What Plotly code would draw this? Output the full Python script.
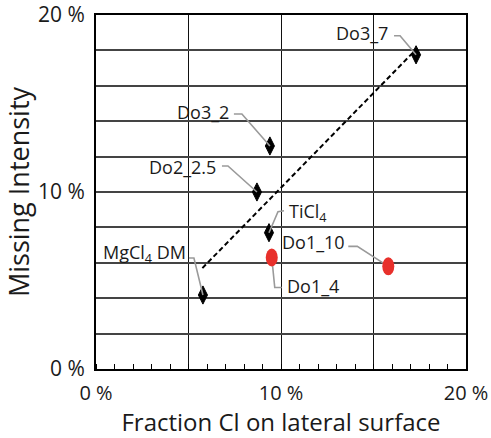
import plotly.graph_objects as go

# Sample names and measured values (percent)
black_names = ["MgCl<sub>4</sub> DM", "Do2_2.5", "Do3_2", "TiCl<sub>4</sub>", "Do3_7"]
black_x = [5.78, 8.7, 9.4, 9.35, 17.3]
black_y = [4.18, 10.0, 12.6, 7.7, 17.75]

red_names = ["Do1_4", "Do1_10"]
red_x = [9.5, 15.8]
red_y = [6.3, 5.8]

# Linear trend through the black samples
trend_x = [5.75, 17.25]
trend_y = [5.7, 18.0]

x_ticks = [0, 5, 10, 15, 20]
x_ticktext = ["0 %", "", "10 %", "", "20 %"]
y_ticks = [0, 2, 4, 6, 8, 10, 12, 14, 16, 18, 20]
y_ticktext = ["0 %", "", "", "", "", "10 %", "", "", "", "", "20 %"]

# Label placement: leader path (elbow, end) and text offset, in pixels relative to the marker
# (dx right, dy down on screen); anchor side of the text
label_layout = {
    "MgCl<sub>4</sub> DM": dict(elbow=(-9, -37), end=(-14, -37), text=(-15, -42), side="right"),
    "Do2_2.5": dict(elbow=(-29, -26), end=(-35, -26), text=(-39, -25), side="right"),
    "Do3_2": dict(elbow=(-28, -32), end=(-36, -32), text=(-39, -34), side="right"),
    "TiCl<sub>4</sub>": dict(elbow=(9, -21), end=(15, -22), text=(18, -20), side="left"),
    "Do3_7": dict(elbow=(-16, -19), end=(-22, -19), text=(-26, -22), side="right"),
    "Do1_4": dict(elbow=(3, 30), end=(10, 30), text=(13, 29), side="left"),
    "Do1_10": dict(elbow=(-31, -20), end=(-40, -20), text=(-41, -24), side="right"),
}

FONT = "Open Sans, Lato, sans-serif"
RED = "#e8302b"
LEADER = "#9a9a9a"

fig = go.Figure()

fig.add_trace(go.Scatter(
    x=trend_x, y=trend_y, mode="lines",
    line=dict(color="black", width=2, dash="5px,3px"),
    hoverinfo="skip", showlegend=False,
))

shapes = []
annotations = []

all_points = list(zip(black_names, black_x, black_y)) + list(zip(red_names, red_x, red_y))
for name, x, y in all_points:
    lay = label_layout[name]
    ex, ey = lay["elbow"]
    nx, ny = lay["end"]
    shapes.append(dict(
        type="path", xref="x", yref="y", xsizemode="pixel", ysizemode="pixel",
        xanchor=x, yanchor=y,
        path=f"M0,0 L{ex},{-ey} L{nx},{-ny}",
        line=dict(color=LEADER, width=1.6), layer="above",
    ))
    tx, ty = lay["text"]
    annotations.append(dict(
        x=x, y=y, xref="x", yref="y", text=name, showarrow=False,
        xanchor=lay["side"], yanchor="middle", xshift=tx, yshift=-ty,
        font=dict(family=FONT, size=18, color="#1a1a1a"),
    ))

# Red samples drawn as upright ellipses
for x, y in zip(red_x, red_y):
    shapes.append(dict(
        type="circle", xref="x", yref="y", xsizemode="pixel", ysizemode="pixel",
        xanchor=x, yanchor=y, x0=-6, x1=6, y0=-9, y1=9,
        fillcolor=RED, line=dict(color=RED, width=0), layer="above",
    ))

fig.add_trace(go.Scatter(
    x=black_x, y=black_y, mode="markers",
    marker=dict(symbol="diamond-tall", size=13, color="black",
                line=dict(color="black", width=1)),
    hoverinfo="skip", showlegend=False,
))

fig.update_layout(
    width=491, height=438,
    margin=dict(l=96, r=25, t=15, b=69),
    paper_bgcolor="white", plot_bgcolor="white",
    font=dict(family=FONT, color="#1a1a1a"),
    shapes=shapes, annotations=annotations,
    showlegend=False,
)

fig.update_xaxes(
    range=[0, 20], tickvals=x_ticks, ticktext=x_ticktext,
    showgrid=True, gridcolor="#111111", gridwidth=1.2,
    showline=True, linecolor="black", linewidth=2, mirror=True,
    ticks="", ticklabelstandoff=5,
    tickfont=dict(family=FONT, size=20, color="#1a1a1a"),
    minor=dict(dtick=1, tick0=0, ticks="inside", ticklen=5, tickwidth=1.2,
               tickcolor="black", showgrid=False),
    title=dict(text="Fraction Cl on lateral surface", standoff=12,
               font=dict(family=FONT, size=24, color="#1a1a1a")),
    zeroline=False, fixedrange=True, automargin=False,
)
fig.update_yaxes(
    range=[0, 20], tickvals=y_ticks, ticktext=y_ticktext,
    showgrid=True, gridcolor="#444444", gridwidth=1.6,
    showline=True, linecolor="black", linewidth=2, mirror=True,
    ticks="", ticklabelstandoff=5,
    tickfont=dict(family=FONT, size=21, color="#1a1a1a"),
    title=dict(text="Missing Intensity", standoff=8,
               font=dict(family=FONT, size=27, color="#1a1a1a")),
    zeroline=False, fixedrange=True, automargin=False,
)

fig.write_html("out.html", config={"displayModeBar": False})
